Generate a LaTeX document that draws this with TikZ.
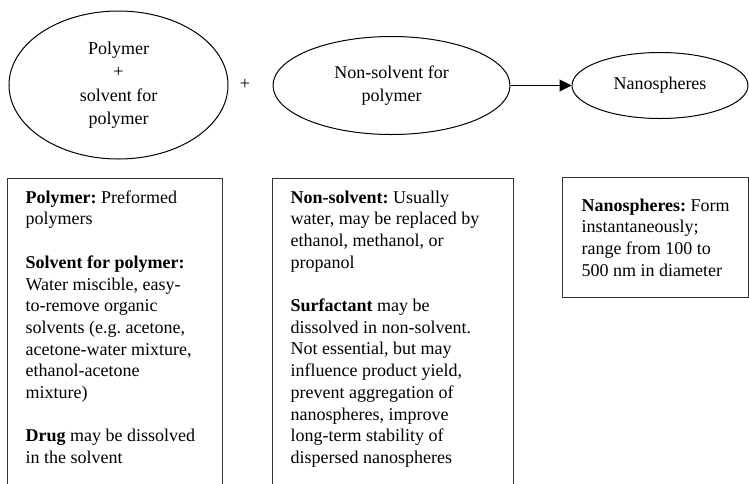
\documentclass[tikz,border=0pt]{standalone}
\usepackage{fontspec}
\setmainfont{Liberation Serif}
\usetikzlibrary{shapes.geometric,arrows.meta}
\frenchspacing

\tikzset{
  bubble/.style={ellipse, draw=black, line width=1pt, inner sep=0pt, align=center,
    font=\fontsize{18}{23.5}\selectfont},
  panel/.style={rectangle, draw=black!80, line width=1.2pt, inner xsep=18pt, inner ysep=12pt,
    anchor=north west, font=\fontsize{18}{21.7}\selectfont},
  flow/.style={line width=1pt, -{Triangle[length=12pt,width=12pt]}},
}

% panel body: a top-aligned block of fixed width and height
\newcommand{\panelbody}[3]{%
  \begin{minipage}[t][#2][t]{#1}\raggedright\setlength{\parskip}{21.7pt}#3\end{minipage}}

\begin{document}
\begin{tikzpicture}[x=1pt,y=-1pt]
  \path[use as bounding box] (0,0) rectangle (749,483);
  \clip (0,0) rectangle (749,483);

  % reactants and product
  \node (mix) [bubble, minimum width=219pt, minimum height=148pt] at (118.5,85)
    {Polymer\\+\\solvent for\\polymer};
  \node (plus) [font=\fontsize{18}{21.7}\selectfont] at (245,84) {+};
  \node (non) [bubble, minimum width=237pt, minimum height=98pt] at (391.5,85.5)
    {Non-solvent for\\polymer};
  \node (nano) [bubble, minimum width=176pt, minimum height=66pt] at (660,85.5)
    {Nanospheres};
  \draw[flow] (non.east) -- (nano.west);

  % notes on each component
  \node (polnote) [panel] at (7,178)
    {\panelbody{179pt}{330pt}{%
      \textbf{Polymer:} Preformed\\polymers\par
      \textbf{Solvent for polymer:}\\Water miscible, easy-\\to-remove organic\\solvents (e.g. acetone,\\acetone-water mixture,\\ethanol-acetone\\mixture)\par
      \textbf{Drug} may be dissolved\\in the solvent}};
  \node (nonnote) [panel] at (272,178)
    {\panelbody{205pt}{330pt}{%
      \textbf{Non-solvent:} Usually\\water, may be replaced by\\ethanol, methanol, or\\propanol\par
      \textbf{Surfactant} may be\\dissolved in non-solvent.\\Not essential, but may\\influence product yield,\\prevent aggregation of\\nanospheres, improve\\long-term stability of\\dispersed nanospheres}};
  \node (nanonote) [panel, minimum width=186pt, minimum height=120pt, inner xsep=17pt, align=left]
    at (562,177)
    {\textbf{Nanospheres:} Form\\instantaneously;\\range from 100 to\\500 nm in diameter};
\end{tikzpicture}
\end{document}
